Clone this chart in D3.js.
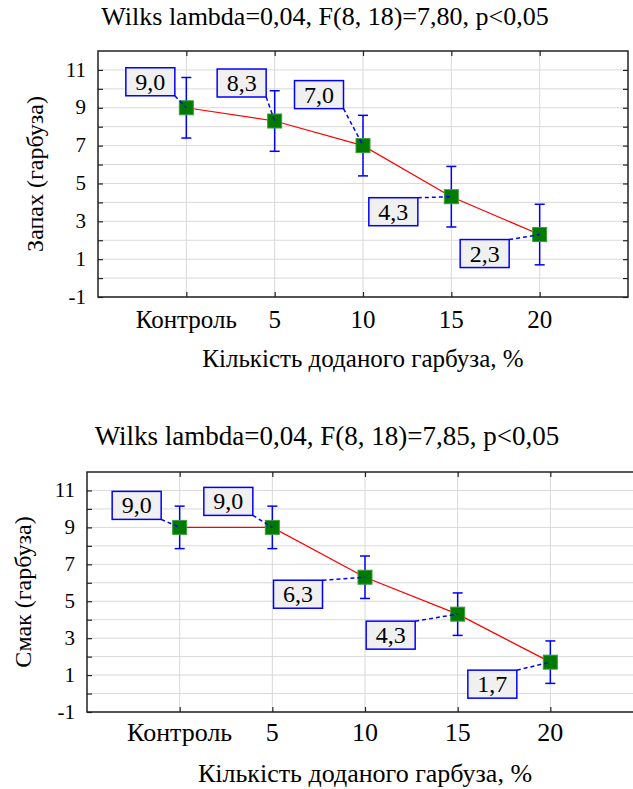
<!DOCTYPE html>
<html>
<head>
<meta charset="utf-8">
<script src="https://cdn.jsdelivr.net/npm/d3@7"></script>
<style>
  svg text, svg g text, svg g g text { font-family: "Liberation Serif", Tinos, "Times New Roman", serif !important; }
</style>
</head>
<body style="margin:0">
<script>
// Дані
const categories = ['Контроль', '5', '10', '15', '20']
const yTicks = [-1, 0, 1, 2, 3, 4, 5, 6, 7, 8, 9, 10, 11]
const yDomain = [-1, 12]

const smellTitle = 'Wilks lambda=0,04, F(8, 18)=7,80, p<0,05'
const smellMeans = [9.0, 8.3, 7.0, 4.3, 2.3]
const smellErrors = [1.6, 1.6, 1.6, 1.6, 1.6]

const tasteTitle = 'Wilks lambda=0,04, F(8, 18)=7,85, p<0,05'
const tasteMeans = [9.0, 9.0, 6.3, 4.3, 1.7]
const tasteErrors = [1.15, 1.15, 1.15, 1.15, 1.15]

const xTitle = 'Кількість доданого гарбуза, %'

const width = 633
const height = 789
const serifFont = '"Liberation Serif", Tinos, "Times New Roman", serif'

const svg = d3.select('body').append('svg')
  .attr('width', width)
  .attr('height', height)

function addText (parent, str, size) {
  return parent.append('text')
    .style('font-family', serifFont, 'important')
    .style('font-size', size + 'px')
    .style('fill', '#000')
    .text(str)
}

function drawChart (cfg) {
  const b = cfg.box
  const g = svg.append('g')

  const x = d3.scaleLinear().domain([-1, categories.length]).range([b.left, b.right])
  const y = d3.scaleLinear().domain(yDomain).range([b.bottom, b.top])
  const idx = d3.range(categories.length)

  // сітка
  g.append('g')
    .selectAll('line')
    .data(yTicks)
    .join('line')
    .attr('x1', b.left).attr('x2', b.right)
    .attr('y1', d => y(d)).attr('y2', d => y(d))
    .attr('stroke', '#d9d9d9').attr('stroke-width', 1)
  g.append('g')
    .selectAll('line')
    .data(idx)
    .join('line')
    .attr('x1', d => x(d)).attr('x2', d => x(d))
    .attr('y1', b.top).attr('y2', b.bottom)
    .attr('stroke', '#d9d9d9').attr('stroke-width', 1)

  // осі (лише рисочки, підписи окремо)
  g.append('g')
    .attr('transform', `translate(${b.left},0)`)
    .call(d3.axisLeft(y).tickValues(yTicks).tickSize(-5).tickFormat(''))
  g.append('g')
    .attr('transform', `translate(${b.right},0)`)
    .call(d3.axisRight(y).tickValues(yTicks).tickSize(-5).tickFormat(''))
  g.append('g')
    .attr('transform', `translate(0,${b.top})`)
    .call(d3.axisTop(x).tickValues(idx).tickSize(-5).tickFormat(''))
  g.append('g')
    .attr('transform', `translate(0,${b.bottom})`)
    .call(d3.axisBottom(x).tickValues(idx).tickSize(-5).tickFormat(''))

  g.selectAll('.domain').remove()
  g.selectAll('.tick text').remove()
  g.selectAll('.tick line').attr('stroke', '#222').attr('stroke-width', 1.2)

  yTicks.filter(d => d % 2).forEach(d => {
    addText(g, String(d), 21)
      .attr('x', b.left - 12).attr('y', y(d)).attr('dy', '0.32em')
      .attr('text-anchor', 'end')
  })
  idx.forEach(i => {
    addText(g, categories[i], cfg.fs)
      .attr('x', x(i)).attr('y', b.bottom + cfg.tickBase)
      .attr('text-anchor', 'middle')
  })

  g.append('rect')
    .attr('x', b.left).attr('y', b.top)
    .attr('width', b.right - b.left).attr('height', b.bottom - b.top)
    .attr('fill', 'none').attr('stroke', '#222').attr('stroke-width', 1.5)

  // заголовки
  addText(g, cfg.title, cfg.fs + 1)
    .attr('x', cfg.titlePos[0]).attr('y', cfg.titlePos[1])
    .attr('text-anchor', 'middle')
  addText(g, xTitle, cfg.fs)
    .attr('x', (b.left + b.right) / 2).attr('y', cfg.xTitleY)
    .attr('text-anchor', 'middle')
  addText(g, cfg.yTitle, 24)
    .attr('transform', `translate(${cfg.yTitleX},${(b.top + b.bottom) / 2}) rotate(-90)`)
    .attr('text-anchor', 'middle').attr('dy', '0.32em')

  // лінія
  g.append('path')
    .datum(cfg.means)
    .attr('d', d3.line().x((d, i) => x(i)).y(d => y(d)))
    .attr('fill', 'none').attr('stroke', '#ff0000').attr('stroke-width', 1.2)

  // похибки
  const eb = g.append('g').attr('stroke', '#0000ff').attr('stroke-width', 1.5)
  cfg.means.forEach((m, i) => {
    const e = cfg.errors[i]
    eb.append('line').attr('x1', x(i)).attr('x2', x(i)).attr('y1', y(m + e)).attr('y2', y(m - e))
    eb.append('line').attr('x1', x(i) - 5).attr('x2', x(i) + 5).attr('y1', y(m + e)).attr('y2', y(m + e))
    eb.append('line').attr('x1', x(i) - 5).attr('x2', x(i) + 5).attr('y1', y(m - e)).attr('y2', y(m - e))
  })

  // маркери
  const sq = 14
  g.append('g')
    .selectAll('rect')
    .data(cfg.means)
    .join('rect')
    .attr('x', (d, i) => x(i) - sq / 2)
    .attr('y', d => y(d) - sq / 2)
    .attr('width', sq).attr('height', sq)
    .attr('fill', '#007a00').attr('stroke', '#3c9c3c').attr('stroke-width', 1)

  // підписи значень
  const bw = 49
  const bh = 28
  cfg.means.forEach((m, i) => {
    const px = x(i)
    const py = y(m)
    const [dx, dy] = cfg.labelOffsets[i]
    const cx = px + dx
    const cy = py + dy
    const ax = cx + bw / 2
    const ay = dy < 0 ? cy + bh / 2 : cy - bh / 2
    g.append('line')
      .attr('x1', ax).attr('y1', ay).attr('x2', px).attr('y2', py)
      .attr('stroke', '#0000ff').attr('stroke-width', 1.5)
      .attr('stroke-dasharray', '4,3')
    g.append('rect')
      .attr('x', cx - bw / 2).attr('y', cy - bh / 2)
      .attr('width', bw).attr('height', bh)
      .attr('fill', '#f0f0f0').attr('stroke', '#0000ff').attr('stroke-width', 1.5)
    addText(g, m.toFixed(1).replace('.', ','), 24)
      .attr('x', cx).attr('y', cy + 8)
      .attr('text-anchor', 'middle')
  })
}

drawChart({
  title: smellTitle,
  yTitle: 'Запах (гарбуза)',
  means: smellMeans,
  errors: smellErrors,
  box: { left: 98, right: 628, top: 51, bottom: 297 },
  titlePos: [325, 25],
  xTitleY: 367,
  yTitleX: 35,
  tickBase: 31,
  fs: 25,
  // зсув центру підпису відносно точки, px
  labelOffsets: [[-36, -26], [-33, -38], [-44, -51], [-58, 15], [-55, 19]]
})

drawChart({
  title: tasteTitle,
  yTitle: 'Смак (гарбуза)',
  means: tasteMeans,
  errors: tasteErrors,
  box: { left: 87, right: 643, top: 472, bottom: 712 },
  titlePos: [327, 445],
  xTitleY: 782,
  yTitleX: 23,
  tickBase: 29,
  fs: 26,
  labelOffsets: [[-43, -22], [-44, -26], [-67, 17], [-67, 21], [-58, 22]]
})
</script>
</body>
</html>
